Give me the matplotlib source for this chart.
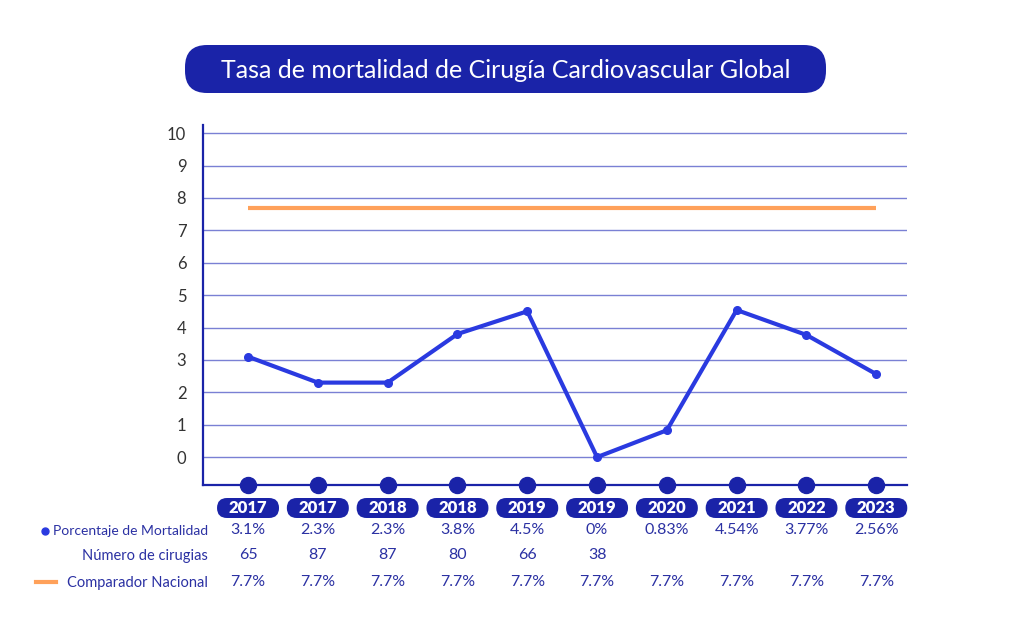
import numpy as np
import matplotlib.pyplot as plt
from matplotlib.patches import FancyBboxPatch
from matplotlib.lines import Line2D

plt.rcParams['font.family'] = ['Lato', 'DejaVu Sans']

years = ['2017', '2017', '2018', '2018', '2019', '2019', '2020', '2021', '2022', '2023']
mortalidad = [3.1, 2.3, 2.3, 3.8, 4.5, 0, 0.83, 4.54, 3.77, 2.56]
mort_labels = ['3.1%', '2.3%', '2.3%', '3.8%', '4.5%', '0%', '0.83%', '4.54%', '3.77%', '2.56%']
cirugias = ['65', '87', '87', '80', '66', '38', '', '', '', '']
comparador = [7.7] * 10
comp_labels = ['7.7%'] * 10

navy = '#1a23a8'
blue = '#2a3ae0'
txt = '#2b31a3'
orange = '#ffa15a'
grid = '#7a80d4'

W, H = 1024, 621
fig = plt.figure(figsize=(W / 100, H / 100), dpi=100)
ax = fig.add_axes([203 / W, 1 - 485 / H, (907 - 203) / W, (485 - 125) / H])

x = np.arange(len(years))
ax.set_xlim(-0.645, 9.44)
ax.set_ylim(-0.86, 10.25)

for v in range(0, 11):
    ax.axhline(v, color=grid, lw=1, zorder=1)

ax.plot(x, comparador, color=orange, lw=3, solid_capstyle='butt', zorder=2)
ax.plot(x, mortalidad, color=blue, lw=3, marker='o', ms=5.5, zorder=3)

for s in ['top', 'right']:
    ax.spines[s].set_visible(False)
for s in ['left', 'bottom']:
    ax.spines[s].set_color(navy)
    ax.spines[s].set_linewidth(1.6)
ax.set_xticks([])
ax.set_yticks(range(0, 11))
ax.tick_params(axis='y', length=0, pad=12, labelsize=12, labelcolor='#333333')

# dots on the bottom axis
ax.plot(x, [-0.86] * len(x), 'o', color=navy, ms=11.5, clip_on=False, zorder=5)

fig.canvas.draw()

def px(i):
    return ax.transData.transform((i, 0))[0]

# year pills and value rows
for i, yr in enumerate(years):
    cx = px(i)
    pw, ph = 62, 20
    cy = H - 508
    p = FancyBboxPatch((cx - pw / 2, cy - ph / 2), pw, ph,
                       boxstyle='round,pad=0,rounding_size=10',
                       transform=None, fc=navy, ec='none')
    fig.patches.append(p)
    fig.text(cx / W, cy / H, yr, color='white', fontsize=12, fontweight='heavy',
             ha='center', va='center')
    fig.text(cx / W, 1 - 530 / H, mort_labels[i], color=txt, fontsize=11.5,
             ha='center', va='center')
    fig.text(cx / W, 1 - 555 / H, cirugias[i], color=txt, fontsize=11.5,
             ha='center', va='center')
    fig.text(cx / W, 1 - 582 / H, comp_labels[i], color=txt, fontsize=11.5,
             ha='center', va='center')

# row labels
fig.text(208 / W, 1 - 531 / H, 'Porcentaje de Mortalidad', color=txt, fontsize=10,
         ha='right', va='center')
fig.text(208 / W, 1 - 556 / H, 'Número de cirugias', color=txt, fontsize=10.5,
         ha='right', va='center')
fig.text(208 / W, 1 - 583 / H, 'Comparador Nacional', color=txt, fontsize=10.5,
         ha='right', va='center')
fig.add_artist(Line2D([45 / W], [1 - 531 / H], marker='o', ms=5, color=blue,
                      transform=fig.transFigure))
fig.add_artist(Line2D([36 / W, 56 / W], [1 - 582 / H] * 2, lw=3, color=orange,
                      transform=fig.transFigure))

# title pill
tp = FancyBboxPatch((185, H - 93), 826 - 185, 48,
                    boxstyle='round,pad=0,rounding_size=22',
                    transform=None, fc=navy, ec='none')
fig.patches.append(tp)
fig.text((185 + 826) / 2 / W, 1 - 70 / H, 'Tasa de mortalidad de Cirugía Cardiovascular Global',
         color='white', fontsize=18, ha='center', va='center')

fig.savefig('out.png', dpi=100)
